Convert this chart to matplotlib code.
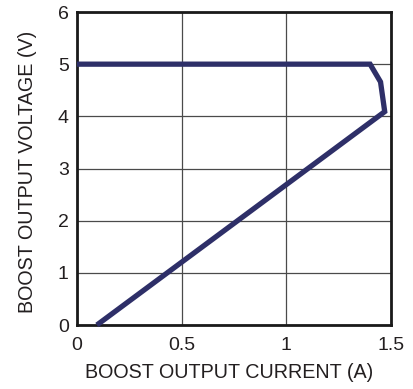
import matplotlib
matplotlib.use("Agg")
import matplotlib.pyplot as plt

# Boost output voltage vs. load current (foldback curve)
current_a = [0.0, 1.40, 1.45, 1.47, 0.095]
voltage_v = [5.0, 5.0, 4.66, 4.09, 0.0]

x_ticks = [0, 0.5, 1, 1.5]
x_tick_labels = ["0", "0.5", "1", "1.5"]
y_ticks = [0, 1, 2, 3, 4, 5, 6]

plt.rcParams["font.family"] = ["Liberation Sans", "DejaVu Sans"]

fig = plt.figure(figsize=(4.14, 3.89), dpi=100)
ax = fig.add_axes([77 / 414, 1 - 325 / 389, 314 / 414, 313 / 389])

ax.plot(current_a, voltage_v, color="#2e2f68", lw=3.8, solid_joinstyle="miter",
        solid_capstyle="butt", zorder=3, clip_on=False)

ax.set_xlim(0, 1.5)
ax.set_ylim(0, 6)
ax.set_xticks(x_ticks)
ax.set_xticklabels(x_tick_labels)
ax.set_yticks(y_ticks)
ax.grid(True, color="#4a4a4a", lw=0.9)
ax.tick_params(length=0, labelsize=14, colors="#231f20")
ax.tick_params(axis="y", pad=6)
ax.tick_params(axis="x", pad=9)
for s in ax.spines.values():
    s.set_linewidth(2.0)
    s.set_color("#1a1a1a")

ax.set_xlabel("BOOST OUTPUT CURRENT (A)", fontsize=14.2, color="#231f20")
ax.set_ylabel("BOOST OUTPUT VOLTAGE (V)", fontsize=14.2, color="#231f20")
ax.xaxis.set_label_coords(0.484, -0.122)
ax.yaxis.set_label_coords(-0.127, 0.49)

fig.savefig("out.png", dpi=100)
